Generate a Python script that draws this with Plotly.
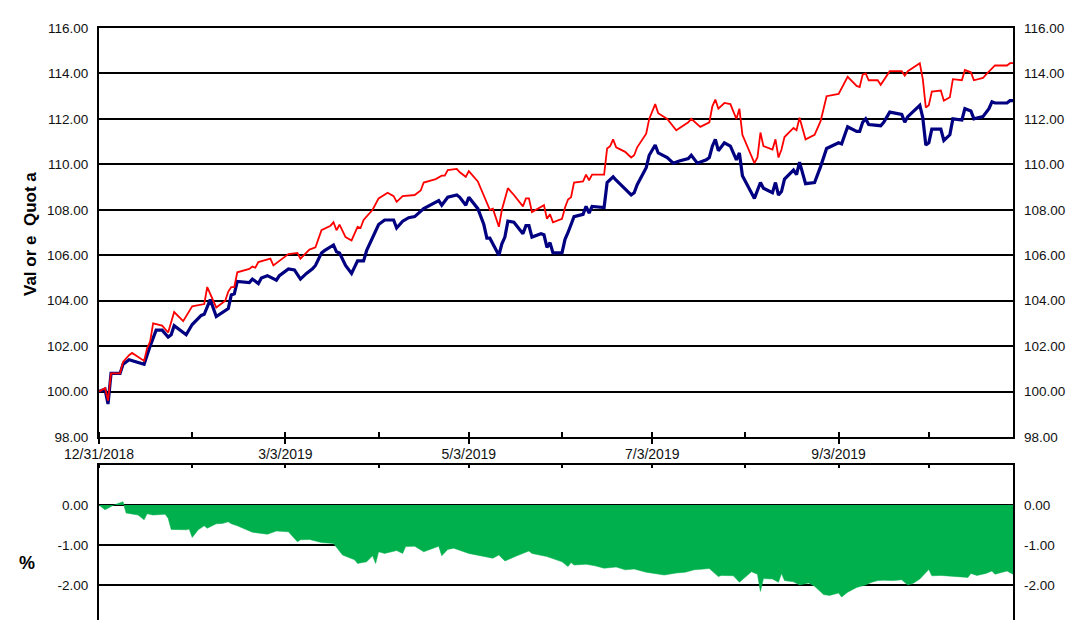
import plotly.graph_objects as go

# ---------------- data ----------------
red_dates = ["2018-12-31","2019-01-02","2019-01-03","2019-01-04","2019-01-07","2019-01-08","2019-01-10","2019-01-11",
 "2019-01-15","2019-01-16","2019-01-17","2019-01-18","2019-01-21","2019-01-23","2019-01-24","2019-01-25","2019-01-28",
 "2019-01-31","2019-02-04","2019-02-05","2019-02-08","2019-02-11","2019-02-12","2019-02-13","2019-02-14","2019-02-15",
 "2019-02-19","2019-02-20","2019-02-21","2019-02-22","2019-02-26","2019-02-27","2019-03-04","2019-03-07","2019-03-08",
 "2019-03-11","2019-03-13","2019-03-15","2019-03-18","2019-03-19","2019-03-20","2019-03-21","2019-03-23","2019-03-25",
 "2019-03-27","2019-03-28","2019-03-29","2019-04-01","2019-04-03","2019-04-06","2019-04-08","2019-04-09","2019-04-11",
 "2019-04-15","2019-04-17","2019-04-18","2019-04-22","2019-04-24","2019-04-25","2019-04-26","2019-04-29","2019-04-30",
 "2019-05-02","2019-05-03","2019-05-06","2019-05-08","2019-05-10","2019-05-11","2019-05-13","2019-05-14","2019-05-16",
 "2019-05-18","2019-05-21","2019-05-22","2019-05-23","2019-05-24","2019-05-27","2019-05-28","2019-05-29","2019-05-30",
 "2019-05-31","2019-06-02","2019-06-03","2019-06-04","2019-06-05","2019-06-06","2019-06-07","2019-06-10","2019-06-11",
 "2019-06-12","2019-06-13","2019-06-17","2019-06-18","2019-06-19","2019-06-20","2019-06-21","2019-06-24","2019-06-26",
 "2019-06-27","2019-06-28","2019-07-01","2019-07-02","2019-07-04","2019-07-05","2019-07-08","2019-07-11","2019-07-15",
 "2019-07-16","2019-07-19","2019-07-22","2019-07-23","2019-07-24","2019-07-25","2019-07-27","2019-07-29","2019-07-31",
 "2019-08-01","2019-08-02","2019-08-06","2019-08-07","2019-08-08","2019-08-09","2019-08-12","2019-08-13","2019-08-14",
 "2019-08-15","2019-08-16","2019-08-19","2019-08-20","2019-08-21","2019-08-23","2019-08-26","2019-08-28","2019-08-30",
 "2019-09-03","2019-09-06","2019-09-09","2019-09-10","2019-09-11","2019-09-12","2019-09-13","2019-09-16","2019-09-17",
 "2019-09-20","2019-09-24","2019-09-25","2019-09-26","2019-09-30","2019-10-01","2019-10-02","2019-10-03","2019-10-04",
 "2019-10-07","2019-10-08","2019-10-10","2019-10-11","2019-10-14","2019-10-15","2019-10-17","2019-10-18","2019-10-21",
 "2019-10-22","2019-10-23","2019-10-25","2019-10-29","2019-10-30","2019-10-31"]
red_values = [100.0,100.15,99.6,100.8,100.8,101.3,101.6,101.7,
 101.35,101.9,102.2,103.0,102.9,102.6,103.05,103.5,103.1,
 103.75,103.85,104.6,103.7,104.0,104.4,104.6,104.6,105.25,
 105.4,105.5,105.45,105.7,105.85,105.55,106.05,106.1,105.85,
 106.25,106.35,107.1,107.3,107.45,107.1,107.35,106.8,106.65,
 107.25,107.2,107.55,108.0,108.5,108.75,108.6,108.35,108.6,
 108.65,108.85,109.2,109.35,109.5,109.5,109.75,109.8,109.65,
 109.45,109.7,109.25,108.6,108.0,108.05,107.25,108.0,108.95,
 108.65,108.15,108.5,108.5,107.9,108.1,108.2,107.6,107.8,
 107.45,107.55,107.6,108.1,108.45,108.55,109.2,109.25,109.55,
 109.3,109.55,109.55,110.7,110.8,111.1,110.75,110.55,110.3,
 110.4,110.75,111.35,112.0,112.65,112.25,112.0,111.5,111.85,
 112.0,111.65,111.85,112.55,112.85,112.45,112.7,112.65,112.0,
 112.45,111.3,110.05,110.3,111.4,110.8,110.65,111.1,110.3,
 110.65,111.2,111.6,111.5,112.05,111.1,111.3,111.9,113.0,
 113.1,113.85,113.45,113.4,113.95,114.0,113.7,113.7,113.5,
 114.1,114.1,113.9,114.1,114.45,113.75,112.5,112.6,113.2,
 113.25,112.8,112.95,113.75,113.7,114.15,114.05,113.7,113.8,
 113.95,114.1,114.35,114.35,114.45,114.45]

navy_dates = ["2018-12-31","2019-01-02","2019-01-03","2019-01-04","2019-01-07","2019-01-08","2019-01-10","2019-01-15",
 "2019-01-17","2019-01-19","2019-01-21","2019-01-23","2019-01-24","2019-01-25","2019-01-29","2019-01-31","2019-02-03",
 "2019-02-04","2019-02-06","2019-02-08","2019-02-12","2019-02-13","2019-02-14","2019-02-15","2019-02-19","2019-02-20",
 "2019-02-22","2019-02-23","2019-02-25","2019-02-28","2019-03-01","2019-03-04","2019-03-06","2019-03-08","2019-03-10",
 "2019-03-12","2019-03-13","2019-03-15","2019-03-16","2019-03-19","2019-03-20","2019-03-21","2019-03-23","2019-03-25",
 "2019-03-27","2019-03-29","2019-03-30","2019-04-03","2019-04-05","2019-04-08","2019-04-09","2019-04-11","2019-04-13",
 "2019-04-15","2019-04-18","2019-04-23","2019-04-24","2019-04-26","2019-04-29","2019-04-30","2019-05-02","2019-05-03",
 "2019-05-06","2019-05-08","2019-05-09","2019-05-10","2019-05-13","2019-05-14","2019-05-15","2019-05-16","2019-05-18",
 "2019-05-21","2019-05-22","2019-05-23","2019-05-24","2019-05-27","2019-05-28","2019-05-29","2019-05-30","2019-05-31",
 "2019-06-02","2019-06-03","2019-06-04","2019-06-05","2019-06-07","2019-06-10","2019-06-11","2019-06-12","2019-06-13",
 "2019-06-17","2019-06-18","2019-06-20","2019-06-21","2019-06-23","2019-06-26","2019-06-27","2019-06-28","2019-07-01",
 "2019-07-02","2019-07-04","2019-07-05","2019-07-08","2019-07-10","2019-07-12","2019-07-15","2019-07-16","2019-07-18",
 "2019-07-21","2019-07-22","2019-07-23","2019-07-24","2019-07-25","2019-07-27","2019-07-29","2019-07-31","2019-08-01",
 "2019-08-02","2019-08-06","2019-08-08","2019-08-09","2019-08-12","2019-08-13","2019-08-14","2019-08-15","2019-08-16",
 "2019-08-19","2019-08-20","2019-08-21","2019-08-23","2019-08-26","2019-08-28","2019-08-30","2019-09-03","2019-09-04",
 "2019-09-06","2019-09-09","2019-09-10","2019-09-11","2019-09-12","2019-09-13","2019-09-17","2019-09-18","2019-09-20",
 "2019-09-24","2019-09-25","2019-09-26","2019-09-30","2019-10-01","2019-10-02","2019-10-03","2019-10-04","2019-10-07",
 "2019-10-08","2019-10-10","2019-10-11","2019-10-14","2019-10-15","2019-10-17","2019-10-18","2019-10-21","2019-10-23",
 "2019-10-24","2019-10-25","2019-10-29","2019-10-30","2019-10-31"]
navy_values = [100.0,100.1,99.45,100.8,100.8,101.2,101.4,101.2,
 102.0,102.7,102.7,102.4,102.5,102.9,102.5,102.95,103.35,
 103.4,104.05,103.3,103.65,104.25,104.3,104.85,104.8,104.95,
 104.75,105.0,105.1,104.9,105.1,105.4,105.35,104.95,105.2,
 105.4,105.55,106.1,106.2,106.45,106.15,106.1,105.55,105.2,
 105.75,105.75,106.2,107.35,107.55,107.55,107.2,107.5,107.65,
 107.7,108.05,108.4,108.2,108.55,108.65,108.55,108.2,108.55,
 108.05,107.35,106.75,106.75,106.0,106.5,106.8,107.5,107.45,
 106.95,107.3,107.3,106.8,106.95,106.9,106.35,106.55,106.1,
 106.1,106.1,106.7,107.0,107.7,107.8,108.15,107.85,108.15,
 108.1,109.2,109.45,109.3,109.05,108.65,108.75,109.1,109.85,
 110.4,110.85,110.5,110.3,110.05,110.15,110.25,110.4,110.05,
 110.2,110.3,110.8,111.1,110.6,110.95,110.8,110.2,110.5,
 109.5,108.5,109.2,108.95,108.75,109.2,108.65,108.8,109.35,
 109.75,109.55,110.1,109.15,109.2,109.9,110.7,110.95,110.9,
 111.65,111.45,111.45,111.85,112.0,111.75,111.7,111.85,112.3,
 112.2,111.85,112.1,112.6,112.05,110.85,110.95,111.55,111.55,
 111.05,111.3,112.0,111.95,112.45,112.35,112.0,112.1,112.45,
 112.75,112.7,112.7,112.8,112.8]

diff_dates = ["2018-12-31","2019-01-02","2019-01-04","2019-01-05","2019-01-08","2019-01-09","2019-01-13","2019-01-15",
 "2019-01-16","2019-01-18","2019-01-22","2019-01-23","2019-01-24","2019-01-29","2019-01-30","2019-01-31","2019-02-02",
 "2019-02-04","2019-02-05","2019-02-08","2019-02-10","2019-02-12","2019-02-13","2019-02-15","2019-02-20","2019-02-25",
 "2019-02-28","2019-03-04","2019-03-07","2019-03-08","2019-03-11","2019-03-15","2019-03-19","2019-03-22","2019-03-26",
 "2019-03-27","2019-03-30","2019-04-01","2019-04-02","2019-04-03","2019-04-05","2019-04-09","2019-04-11","2019-04-12",
 "2019-04-15","2019-04-18","2019-04-23","2019-04-24","2019-04-26","2019-04-28","2019-05-03","2019-05-08","2019-05-11",
 "2019-05-13","2019-05-15","2019-05-19","2019-05-23","2019-05-24","2019-05-29","2019-06-03","2019-06-05","2019-06-06",
 "2019-06-07","2019-06-11","2019-06-14","2019-06-17","2019-06-21","2019-06-24","2019-06-27","2019-07-01","2019-07-04",
 "2019-07-07","2019-07-11","2019-07-14","2019-07-17","2019-07-19","2019-07-22","2019-07-25","2019-07-26","2019-07-30",
 "2019-08-01","2019-08-05","2019-08-07","2019-08-08","2019-08-09","2019-08-12","2019-08-14","2019-08-15","2019-08-16",
 "2019-08-19","2019-08-21","2019-08-24","2019-08-26","2019-08-29","2019-08-31","2019-09-03","2019-09-04","2019-09-06",
 "2019-09-09","2019-09-11","2019-09-12","2019-09-14","2019-09-16","2019-09-18","2019-09-21","2019-09-24","2019-09-26",
 "2019-09-28","2019-09-30","2019-10-03","2019-10-04","2019-10-07","2019-10-11","2019-10-16","2019-10-17","2019-10-19",
 "2019-10-22","2019-10-24","2019-10-25","2019-10-28","2019-10-29","2019-10-31"]
diff_values = [0.0,-0.12,-0.04,0.0,0.08,-0.2,-0.25,-0.37,
 -0.22,-0.25,-0.23,-0.33,-0.61,-0.62,-0.6,-0.81,-0.62,
 -0.52,-0.58,-0.47,-0.46,-0.42,-0.47,-0.52,-0.68,-0.73,
 -0.65,-0.67,-0.92,-0.87,-0.86,-0.94,-0.96,-1.25,-1.37,
 -1.46,-1.42,-1.27,-1.46,-1.17,-1.21,-1.14,-1.21,-1.04,
 -1.03,-1.17,-1.03,-1.27,-1.11,-1.08,-1.21,-1.29,-1.33,
 -1.25,-1.4,-1.27,-1.15,-1.21,-1.29,-1.42,-1.54,-1.44,
 -1.5,-1.48,-1.52,-1.58,-1.55,-1.62,-1.6,-1.68,-1.72,
 -1.75,-1.7,-1.68,-1.62,-1.61,-1.59,-1.79,-1.76,-1.77,
 -1.93,-1.67,-1.73,-2.16,-1.84,-1.85,-1.93,-1.71,-1.89,
 -1.92,-2.0,-1.95,-2.03,-2.24,-2.26,-2.2,-2.3,-2.18,
 -2.06,-2.02,-2.0,-1.93,-1.89,-1.88,-1.89,-1.87,-2.0,
 -1.95,-1.85,-1.61,-1.77,-1.76,-1.79,-1.81,-1.71,-1.76,
 -1.71,-1.65,-1.73,-1.67,-1.65,-1.73]

major_ticks = ["2018-12-31", "2019-03-03", "2019-05-03", "2019-07-03", "2019-09-03"]
major_labels = ["12/31/2018", "3/3/2019", "5/3/2019", "7/3/2019", "9/3/2019"]
all_ticks = ["2018-12-31", "2019-01-31", "2019-03-03", "2019-04-03", "2019-05-03", "2019-06-03",
             "2019-07-03", "2019-08-03", "2019-09-03", "2019-10-03"]
x_range = ["2018-12-31", "2019-10-31"]
top_ticks = [98, 100, 102, 104, 106, 108, 110, 112, 114, 116]
bot_ticks = [0, -1, -2]
bot_labels = ["0.00", "-1.00", "-2.00"]

# ---------------- figure ----------------
FONT = "Liberation Sans, Arial, sans-serif"
W, H = 1070, 620
ML, MR, MT, MB = 99, 57, 28, 0
ph = H - MT - MB
top_dom = [(H - 437) / ph, 1.0]
bot_dom = [0.0, (H - 465) / ph]

fig = go.Figure()
fig.add_trace(go.Scatter(x=navy_dates, y=navy_values, mode="lines",
                         line=dict(color="#000080", width=3.2), xaxis="x", yaxis="y",
                         showlegend=False, hoverinfo="skip"))
fig.add_trace(go.Scatter(x=red_dates, y=red_values, mode="lines",
                         line=dict(color="#FF0000", width=1.8), xaxis="x", yaxis="y",
                         showlegend=False, hoverinfo="skip"))
# same series bound to the right-hand axes (invisible) so that those axes are drawn
fig.add_trace(go.Scatter(x=red_dates, y=red_values, mode="lines", opacity=0,
                         line=dict(width=0), xaxis="x", yaxis="y2",
                         showlegend=False, hoverinfo="skip"))
fig.add_trace(go.Scatter(x=diff_dates, y=diff_values, mode="lines", fill="tozeroy",
                         fillcolor="#00B04C", line=dict(color="#00B04C", width=0.5),
                         xaxis="x2", yaxis="y3", showlegend=False, hoverinfo="skip"))
fig.add_trace(go.Scatter(x=diff_dates, y=diff_values, mode="lines", opacity=0,
                         line=dict(width=0), xaxis="x2", yaxis="y4",
                         showlegend=False, hoverinfo="skip"))

ytickfont = dict(family=FONT, size=13.5, color="#111111")
xtickfont = dict(family=FONT, size=14, color="#111111")
fig.update_layout(
    width=W, height=H, autosize=False,
    margin=dict(l=ML, r=MR, t=MT, b=MB, pad=0, autoexpand=False),
    paper_bgcolor="white", plot_bgcolor="white",
    xaxis=dict(domain=[0, 1], range=x_range, type="date", automargin=False,
               tickmode="array", tickvals=major_ticks, ticktext=major_labels,
               ticks="outside", ticklen=5, tickwidth=2, tickcolor="black",
               minor=dict(tickmode="array", tickvals=all_ticks, ticks="inside", ticklen=5,
                          tickwidth=2, tickcolor="black", showgrid=False),
               showline=True, linecolor="black", linewidth=2, mirror=True,
               showgrid=False, zeroline=False, tickfont=xtickfont, ticklabelstandoff=-2,
               anchor="y"),
    yaxis=dict(domain=top_dom, range=[98, 116], tickmode="array", tickvals=top_ticks,
               automargin=False,
               tickformat=".2f", ticks="", showline=True, linecolor="black", linewidth=2,
               mirror=True, showgrid=True, gridcolor="black", gridwidth=1.6,
               zeroline=False, tickfont=ytickfont, ticklabelstandoff=6, anchor="x"),
    yaxis2=dict(overlaying="y", side="right", range=[98, 116], tickmode="array",
                automargin=False,
                tickvals=top_ticks, tickformat=".2f", ticks="", showline=False,
                showgrid=False, zeroline=False, tickfont=ytickfont,
                ticklabelstandoff=10, anchor="x"),
    xaxis2=dict(domain=[0, 1], range=x_range, type="date", side="top", automargin=False,
                tickmode="array", tickvals=all_ticks, ticktext=[""] * len(all_ticks),
                ticks="outside", ticklen=3, tickwidth=2, tickcolor="black",
                minor=dict(tickmode="array", tickvals=all_ticks, ticks="inside", ticklen=3,
                           tickwidth=2, tickcolor="black", showgrid=False),
                showline=True, linecolor="black", linewidth=2, mirror=False,
                showgrid=False, zeroline=False, anchor="y3"),
    yaxis3=dict(domain=bot_dom, range=[-2.875, 1.0], tickmode="array", tickvals=bot_ticks,
                automargin=False,
                ticktext=bot_labels, ticks="", showline=True, linecolor="black",
                linewidth=2, mirror=True, showgrid=True, gridcolor="black", gridwidth=1.6,
                zeroline=False, tickfont=ytickfont, ticklabelstandoff=6, anchor="x2"),
    yaxis4=dict(overlaying="y3", side="right", range=[-2.875, 1.0], tickmode="array",
                automargin=False,
                tickvals=bot_ticks, ticktext=bot_labels, ticks="", showline=False,
                showgrid=False, zeroline=False, tickfont=ytickfont,
                ticklabelstandoff=10, anchor="x2"),
    annotations=[
        dict(text="<b>Val or e  Quot a</b>", textangle=-90, xref="paper", yref="paper",
             x=(30 - ML) / (W - ML - MR), y=(H - 234) / ph, xanchor="center", yanchor="middle",
             showarrow=False, font=dict(family=FONT, size=17, color="black")),
        dict(text="<b>%</b>", xref="paper", yref="paper",
             x=(27 - ML) / (W - ML - MR), y=(H - 563) / ph, xanchor="center", yanchor="middle",
             showarrow=False, font=dict(family=FONT, size=18, color="black")),
    ],
)

fig.write_html("out.html", config={"displayModeBar": False},
               post_script="document.body.style.margin='0';")
